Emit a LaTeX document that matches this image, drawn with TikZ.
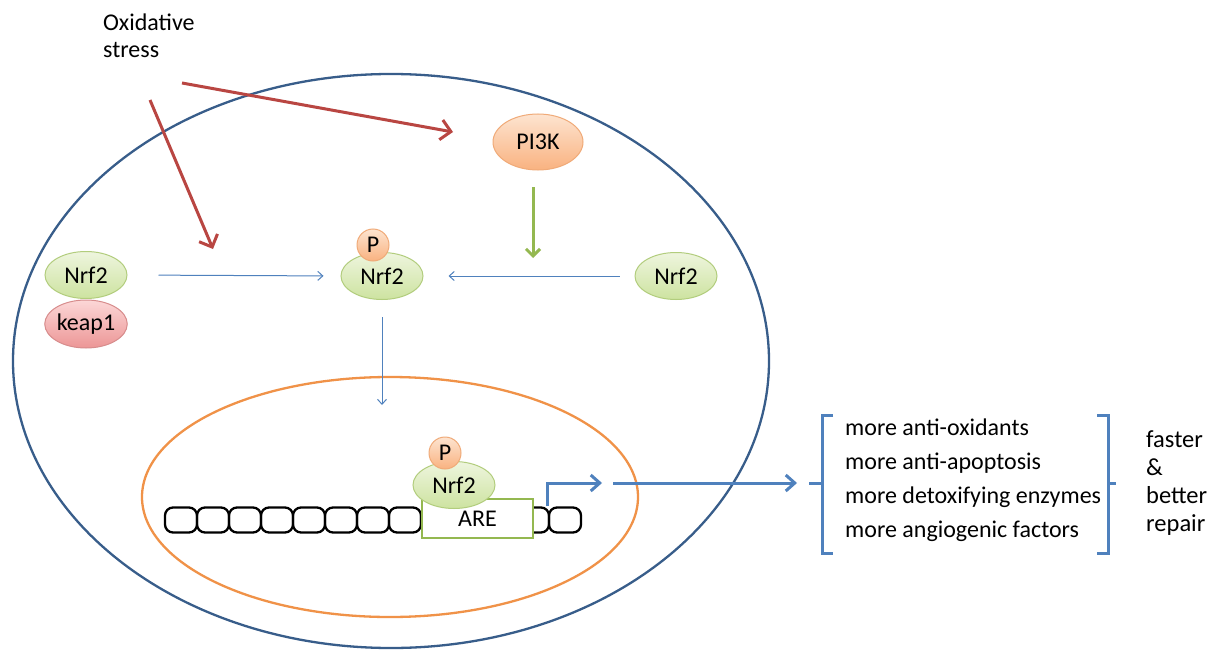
\documentclass[tikz,border=0pt]{standalone}
\usepackage{fontspec}
\setmainfont{Carlito}
\usetikzlibrary{arrows.meta,shapes.geometric}
\definecolor{cellblue}{RGB}{56,93,138}
\definecolor{nucorange}{RGB}{240,146,72}
\definecolor{redarr}{RGB}{185,70,66}
\definecolor{greenarr}{RGB}{148,184,80}
\definecolor{bluearr}{RGB}{79,129,189}
\definecolor{nrftop}{RGB}{238,245,222}
\definecolor{nrfbot}{RGB}{205,227,160}
\definecolor{nrfborder}{RGB}{178,205,125}
\definecolor{keaptop}{RGB}{252,215,215}
\definecolor{keapbot}{RGB}{236,150,150}
\definecolor{keapborder}{RGB}{215,140,140}
\definecolor{ortop}{RGB}{253,228,208}
\definecolor{orbot}{RGB}{249,178,128}
\definecolor{orborder}{RGB}{240,170,120}
\tikzset{
  txt/.style={inner sep=0pt, font=\fontsize{24}{27}\selectfont},
  nrf/.style={ellipse, draw=nrfborder, top color=nrftop, bottom color=nrfbot, line width=1pt, minimum width=82pt, minimum height=47pt, inner sep=0pt},
  keapst/.style={ellipse, draw=keapborder, top color=keaptop, bottom color=keapbot, line width=1pt, minimum width=82pt, minimum height=48pt, inner sep=0pt},
  pik/.style={ellipse, draw=orborder, top color=ortop, bottom color=orbot, line width=1pt, minimum width=90pt, minimum height=56pt, inner sep=0pt},
  pcirc/.style={circle, draw=orborder, top color=ortop, bottom color=orbot, line width=1pt, minimum size=32pt, inner sep=0pt},
  dnabox/.style={draw=black, line width=2.3pt, rounded corners=8pt, minimum width=32pt, minimum height=25pt, inner sep=0pt},
  redarrow/.style={draw=redarr, line width=3pt, -{Straight Barb[length=10pt,width=20pt,line width=3pt]}},
  greenarrow/.style={draw=greenarr, line width=3pt, -{Straight Barb[length=7pt,width=14pt,line width=3pt]}},
  thickblue/.style={draw=bluearr, line width=3pt, -{Straight Barb[length=9pt,width=16pt,line width=3pt]}},
  thinblue/.style={draw=bluearr, line width=1pt, -{Straight Barb[length=5pt,width=9pt,line width=1pt]}},
  bracket/.style={draw=bluearr, line width=3pt},
}
\newcommand{\lbl}{\fontsize{24}{27}\selectfont}
\begin{document}
\begin{tikzpicture}[x=1pt,y=-1pt]
\useasboundingbox (0,0) rectangle (1207,650);
\fill[white] (0,0) rectangle (1207,650);
% cell and nucleus
\node[ellipse, draw=cellblue, line width=2.3pt, minimum width=756pt, minimum height=574pt, inner sep=0pt] (cell) at (391,361) {};
\node[ellipse, draw=nucorange, line width=2.3pt, minimum width=496pt, minimum height=240pt, inner sep=0pt] (nucleus) at (390,497) {};
% text
\node[txt, anchor=base west, align=left] (ox) at (103,58) {Oxidative\\stress};
% coordinates
\coordinate (r1s) at (182,83);
\coordinate (r1e) at (453,132);
\coordinate (r2s) at (150,100);
\coordinate (r2e) at (213,249);
\coordinate (gs) at (533,187);
\coordinate (ge) at (533,258);
\coordinate (downend) at (382,405);
\coordinate (tx) at (602,483);
\coordinate (la1) at (613,483);
\coordinate (la2) at (797,483);
% nodes
\node[pik] (pi3k) at (538,142) {\lbl PI3K};
\node[nrf] (n2L) at (86,275) {\lbl Nrf2};
\node[keapst] (keap) at (86,324) {\lbl keap1};
\node[nrf] (n2C) at (382,276) {\lbl Nrf2};
\node[pcirc] (pC) at (373,245) {\lbl P};
\node[nrf] (n2R) at (676,276) {\lbl Nrf2};
% DNA
\foreach \i in {0,...,12} {
  \node[dnabox] (d\i) at (181+32*\i,520) {};
}
\node[draw=greenarr, fill=white, line width=2pt, minimum width=111pt, minimum height=39pt, inner sep=0pt] (are) at (477.5,518.5) {\lbl ARE};
\node[nrf] (n2N) at (454,485) {\lbl Nrf2};
\node[pcirc] (pN) at (445,453) {\lbl P};
% arrows
\draw[redarrow] (r1s) -- (r1e);
\draw[redarrow] (r2s) -- (r2e);
\draw[greenarrow] (gs) -- (ge);
\draw[thinblue, shorten <=31pt, shorten >=17pt] (n2L.east) -- (n2C.west);
\draw[thinblue, shorten <=15pt, shorten >=25pt] (n2R.west) -- (n2C.east);
\draw[thinblue, shorten <=17pt] (n2C.south) -- (downend);
\draw[thickblue] (d12.north west) |- (tx);
\draw[thickblue] (la1) -- (la2);
% brackets
\draw[bracket] (833,415) -- (822,415) -- (822,553) -- (833,553);
\draw[bracket] (822,483) -- (809,483);
\draw[bracket] (1097,415) -- (1108,415) -- (1108,553) -- (1097,553);
\draw[bracket] (1108,483) -- (1116,483);
% lists
\node[txt, anchor=base west, align=left, font=\fontsize{24}{34}\selectfont] (list) at (845,537) {more anti-oxidants\\more anti-apoptosis\\more detoxifying enzymes\\more angiogenic factors};
\node[txt, anchor=base west, align=left, font=\fontsize{24.5}{28}\selectfont] (res) at (1146,531) {faster\\\&\\better\\repair};
\end{tikzpicture}
\end{document}
